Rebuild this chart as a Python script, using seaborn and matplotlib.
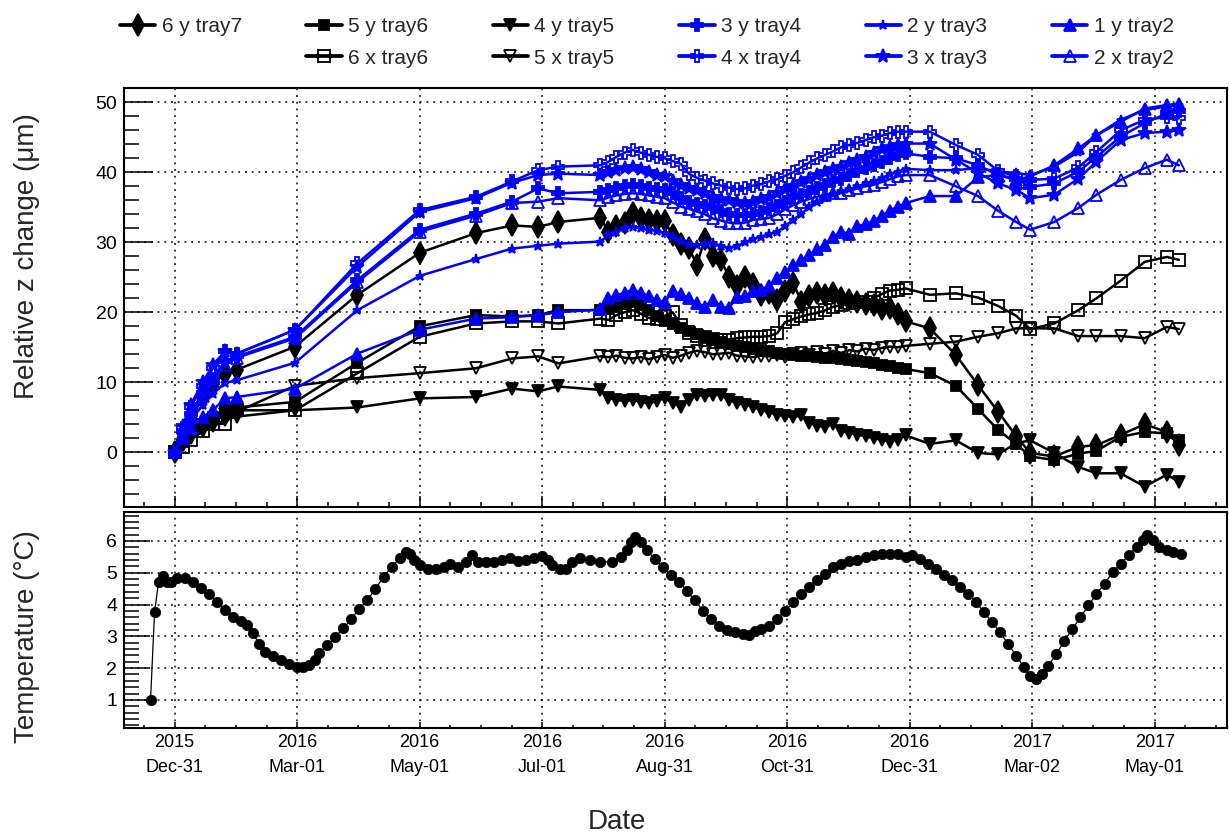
import matplotlib
matplotlib.use("Agg")
import matplotlib.pyplot as plt
from matplotlib.lines import Line2D
from matplotlib.ticker import FixedLocator, MultipleLocator, NullFormatter
import seaborn as sns

# ---------------------------------------------------------------- data
# measurement days, counted from 2015-12-31
dates = [0, 4, 8, 14, 19, 25, 31, 60, 91, 122, 150, 168, 181, 191,
         212, 216, 220, 224, 228, 232, 236, 240, 244, 248, 252, 256, 260,
         264, 268, 272, 276, 280, 284, 288, 292, 296, 300, 304, 308, 312,
         316, 320, 324, 328, 332, 336, 340, 344, 348, 352, 356, 360, 364,
         376, 389, 400, 410, 419, 426, 438, 450, 459, 471, 483, 494, 500]

# relative z change in micrometres
y_tray7_6 = [0, 2.8, 4.8, 7.8, 9.8, 11.2, 11.8, 15.1, 22.5, 28.5, 31.3, 32.4, 32.2, 32.9,
             33.5, 31.5, 32.3, 32.8, 34.2, 33.5, 33.2, 33.0, 33.0, 31.0, 29.8, 29.2, 26.8,
             30.5, 28.0, 27.5, 25.0, 23.8, 25.0, 24.0, 22.5, 22.8, 21.8, 23.0, 24.2, 21.5,
             22.3, 22.8, 22.5, 22.7, 22.0, 21.8, 21.5, 21.2, 21.0, 20.5, 20.6, 19.8, 18.7,
             17.7, 13.9, 9.6, 5.8, 2.3, -0.1, -0.6, 0.8, 1.0, 2.5, 4.0, 2.9, 1.0]
y_tray6_5 = [0, 1.5, 3.0, 4.0, 5.0, 6.0, 6.4, 7.2, 12.8, 18.0, 19.6, 19.4, 19.6, 20.3,
             20.3, 20.5, 20.8, 21.2, 21.5, 21.0, 20.3, 19.5, 18.8, 18.3, 17.8, 17.3, 16.9,
             16.5, 16.2, 15.8, 15.5, 15.2, 15.0, 14.8, 14.6, 14.5, 14.2, 14.0, 13.9, 13.8,
             13.7, 13.6, 13.5, 13.4, 13.3, 13.2, 13.1, 12.9, 12.7, 12.5, 12.3, 12.1, 11.9,
             11.3, 9.5, 6.2, 3.2, 1.2, -0.6, -1.1, -0.2, 0.2, 2.2, 2.9, 2.7, 1.8]
y_tray5_4 = [0, 1.0, 2.0, 3.0, 3.8, 4.6, 5.1, 6.0, 6.4, 7.7, 7.9, 9.1, 8.7, 9.4,
             8.9, 7.8, 7.5, 7.3, 7.5, 7.2, 7.0, 7.3, 7.8, 7.0, 6.5, 7.5, 8.2,
             8.0, 8.2, 8.2, 7.5, 7.0, 6.8, 6.5, 6.0, 5.8, 5.3, 5.2, 5.0, 5.3,
             4.2, 3.8, 3.6, 4.1, 3.0, 2.8, 2.5, 2.3, 2.0, 1.8, 1.5, 1.8, 2.4,
             1.2, 1.7, -0.1, -0.3, 1.3, 1.7, -0.1, -2.1, -3.0, -3.0, -4.9, -3.2, -4.2]
y_tray4_3 = [0, 3.0, 5.5, 8.5, 10.5, 13.0, 13.7, 16.5, 24.6, 31.8, 34.1, 35.8, 37.7, 37.0,
             37.2, 37.5, 37.8, 38.0, 38.2, 38.0, 37.8, 37.6, 37.4, 37.0, 36.3, 35.8, 35.5,
             35.2, 34.9, 34.5, 34.1, 33.9, 33.9, 34.1, 34.3, 34.7, 35.2, 35.8, 36.4, 36.8,
             37.2, 37.7, 38.2, 38.7, 39.1, 39.6, 40.2, 40.6, 41.0, 41.5, 42.0, 42.4, 42.7,
             42.2, 42.0, 41.0, 39.6, 39.1, 37.9, 38.4, 40.1, 42.2, 45.1, 47.0, 48.4, 48.7]
y_tray3_2 = [0, 2.5, 4.5, 6.8, 8.3, 9.9, 10.3, 12.8, 20.3, 25.2, 27.6, 29.1, 29.5, 29.8,
             30.1, 31.0, 31.5, 32.0, 32.2, 32.0, 31.8, 31.6, 31.3, 30.8, 30.2, 29.8, 29.6,
             29.7, 29.9, 29.5, 29.2, 29.5, 30.0, 30.5, 30.8, 31.2, 31.5, 32.3, 33.2, 34.1,
             35.0, 35.8, 36.4, 36.9, 37.3, 37.6, 38.0, 38.4, 38.7, 39.2, 39.7, 40.1, 40.5,
             40.3, 40.3, 40.6, 40.1, 39.9, 39.6, 40.8, 42.9, 45.3, 47.5, 48.9, 49.4, 49.6]
y_tray2_1 = [0, 2.0, 3.5, 5.0, 6.0, 7.7, 7.9, 9.1, 14.1, 17.5, 19.1, 19.3, 19.6, 20.0,
             20.4, 22.0, 22.4, 22.8, 23.2, 22.8, 22.3, 21.8, 21.4, 23.0, 22.6, 22.0, 21.3,
             20.8, 21.8, 20.8, 20.6, 22.2, 22.3, 23.0, 23.2, 23.8, 24.9, 25.8, 26.7, 27.4,
             28.2, 29.0, 29.6, 30.8, 31.5, 31.2, 32.3, 32.6, 33.0, 33.8, 34.5, 35.1, 35.6,
             36.6, 36.6, 39.3, 39.6, 38.9, 39.4, 41.0, 43.4, 45.3, 47.2, 49.1, 49.6, 49.8]
x_tray6_6 = [0, 0.8, 1.8, 3.0, 4.0, 4.1, 6.0, 6.0, 11.3, 16.5, 18.4, 18.7, 18.7, 18.4,
             19.1, 18.9, 19.6, 20.0, 20.3, 19.8, 19.2, 19.0, 19.5, 20.0, 18.2, 17.0, 16.6,
             16.4, 16.2, 16.0, 16.1, 16.3, 16.4, 16.5, 16.5, 16.6, 17.0, 18.6, 19.0, 19.4,
             19.7, 19.9, 20.3, 20.8, 21.0, 21.3, 21.4, 21.5, 22.0, 22.6, 23.1, 23.2, 23.4,
             22.5, 22.7, 22.1, 20.9, 19.5, 17.6, 18.4, 20.3, 22.0, 24.5, 27.2, 27.9, 27.5]
x_tray5_5 = [0, 1.0, 2.2, 3.5, 4.5, 5.5, 5.8, 9.5, 10.6, 11.3, 12.0, 13.4, 13.7, 12.7,
             13.7, 13.6, 13.8, 13.5, 13.4, 13.6, 13.3, 13.6, 13.9, 13.5, 13.8, 14.2, 14.5,
             14.3, 14.0, 14.1, 14.2, 13.8, 13.7, 13.6, 13.8, 13.7, 13.9, 13.6, 14.0, 14.2,
             13.9, 14.3, 14.1, 14.5, 14.2, 14.6, 14.4, 14.8, 14.6, 14.9, 15.1, 15.0, 15.2,
             15.5, 15.8, 16.5, 17.0, 17.7, 17.7, 17.7, 16.6, 16.6, 16.6, 16.3, 17.9, 17.6]
x_tray4_4 = [0, 3.5, 6.5, 9.5, 12.0, 14.4, 14.1, 17.5, 27.0, 34.6, 36.5, 38.7, 40.3, 40.8,
             41.0, 41.5, 42.2, 42.8, 43.2, 42.8, 42.5, 42.2, 42.0, 41.6, 41.2, 39.8, 39.2,
             38.8, 38.4, 38.1, 37.8, 37.6, 37.7, 38.1, 38.3, 38.7, 39.0, 39.5, 40.0, 40.7,
             41.4, 42.0, 42.5, 43.0, 43.6, 43.9, 44.2, 44.6, 45.0, 45.2, 45.6, 45.8, 45.8,
             45.8, 43.9, 42.5, 40.2, 39.4, 38.9, 39.1, 40.7, 42.9, 46.0, 47.5, 47.9, 47.7]
x_tray3_3 = [0, 3.8, 6.8, 10.0, 12.5, 14.4, 14.1, 17.5, 26.5, 34.3, 36.3, 38.5, 39.6, 39.8,
             39.6, 40.0, 40.3, 40.6, 40.8, 40.4, 40.0, 39.6, 39.4, 38.8, 38.2, 37.8, 37.5,
             37.0, 36.5, 36.2, 36.0, 35.8, 35.6, 35.8, 36.2, 36.5, 37.0, 37.6, 38.1, 38.6,
             39.1, 39.6, 40.1, 40.4, 40.8, 41.3, 41.8, 42.2, 42.8, 43.3, 43.6, 43.9, 44.1,
             44.1, 41.8, 39.9, 38.4, 37.5, 36.3, 36.8, 39.1, 41.5, 44.6, 45.6, 45.8, 46.0]
x_tray2_2 = [0, 2.8, 5.0, 8.0, 10.0, 12.5, 13.5, 16.3, 24.3, 31.5, 33.8, 35.6, 35.8, 36.3,
             36.0, 36.4, 36.7, 36.9, 37.0, 36.9, 36.7, 36.5, 36.3, 35.7, 35.1, 34.8, 34.4,
             34.0, 33.4, 33.1, 32.8, 32.7, 32.8, 33.2, 33.3, 33.5, 34.0, 34.7, 35.3, 35.8,
             36.2, 36.5, 36.8, 37.0, 37.1, 37.4, 37.7, 38.0, 38.2, 38.6, 39.0, 39.4, 39.6,
             39.6, 38.0, 36.6, 34.5, 32.9, 31.8, 32.9, 34.9, 36.8, 38.9, 40.6, 41.8, 41.0]

# temperature readings (days from 2015-12-31, degrees C)
temp_days = [-12, -10, -8, -6, -4, -2, 1, 5, 9, 13, 17, 21, 25, 29, 33, 36, 39, 42, 45,
             49, 53, 57, 61, 64, 67, 70, 72, 76, 80, 84, 88, 92, 96, 100, 104, 108, 112,
             115, 117, 119, 122, 126, 130, 134, 137, 141, 145, 148, 151, 155, 159, 163,
             167, 171, 175, 179, 183, 186, 188, 192, 195, 198, 202, 207, 212, 218, 222,
             225, 227, 229, 232, 235, 239, 243, 247, 251, 255, 259, 263, 267, 271, 275,
             279, 283, 286, 289, 292, 296, 300, 304, 308, 312, 316, 320, 324, 328, 332,
             336, 340, 344, 348, 352, 356, 360, 364, 367, 371, 375, 379, 383, 387, 391,
             395, 399, 403, 407, 411, 415, 419, 423, 426, 429, 432, 435, 439, 443, 447,
             451, 455, 459, 463, 467, 471, 475, 479, 482, 484, 487, 490, 494, 497, 501]
temp_vals = [1.01, 3.77, 4.71, 4.89, 4.71, 4.71, 4.85, 4.82, 4.71, 4.53, 4.34, 4.08,
             3.82, 3.61, 3.49, 3.35, 3.09, 2.77, 2.51, 2.38, 2.27, 2.14, 2.02, 2.04, 2.09,
             2.25, 2.46, 2.72, 2.98, 3.25, 3.56, 3.87, 4.14, 4.50, 4.87, 5.18, 5.45, 5.65,
             5.60, 5.39, 5.24, 5.13, 5.13, 5.18, 5.29, 5.18, 5.34, 5.55, 5.34, 5.34, 5.34,
             5.39, 5.45, 5.37, 5.39, 5.45, 5.52, 5.39, 5.24, 5.13, 5.13, 5.34, 5.45, 5.39,
             5.34, 5.34, 5.49, 5.71, 5.97, 6.11, 5.97, 5.71, 5.44, 5.18, 4.92, 4.71, 4.44,
             4.13, 3.81, 3.55, 3.34, 3.20, 3.13, 3.07, 3.05, 3.16, 3.23, 3.34, 3.55, 3.81,
             4.07, 4.34, 4.55, 4.76, 4.97, 5.18, 5.28, 5.37, 5.41, 5.49, 5.55, 5.58, 5.60,
             5.58, 5.49, 5.55, 5.44, 5.28, 5.13, 4.92, 4.76, 4.55, 4.34, 4.07, 3.76, 3.44,
             3.13, 2.76, 2.39, 2.02, 1.76, 1.65, 1.81, 2.07, 2.44, 2.86, 3.23, 3.60, 3.97,
             4.34, 4.65, 5.02, 5.28, 5.55, 5.81, 6.02, 6.18, 6.02, 5.81, 5.71, 5.65, 5.58]

tick_days = [0, 61, 122, 183, 244, 305, 366, 427, 488]
tick_labels = ["2015\nDec-31", "2016\nMar-01", "2016\nMay-01", "2016\nJul-01",
               "2016\nAug-31", "2016\nOct-31", "2016\nDec-31", "2017\nMar-02",
               "2017\nMay-01"]

# ---------------------------------------------------------------- styles
BLUE = "#0000ff"
series = [
    ("6 y tray7", y_tray7_6, dict(color="black", marker="d", ms=11, mfc="black")),
    ("5 y tray6", y_tray6_5, dict(color="black", marker="s", ms=7.5, mfc="black")),
    ("6 x tray6", x_tray6_6, dict(color="black", marker="s", ms=8, mfc="none")),
    ("4 y tray5", y_tray5_4, dict(color="black", marker="v", ms=8.5, mfc="black")),
    ("5 x tray5", x_tray5_5, dict(color="black", marker="v", ms=9, mfc="none")),
    ("3 y tray4", y_tray4_3, dict(color=BLUE, marker="P", ms=8.5, mfc=BLUE)),
    ("4 x tray4", x_tray4_4, dict(color=BLUE, marker="P", ms=9, mfc="none")),
    ("2 y tray3", y_tray3_2, dict(color=BLUE, marker="*", ms=6.5, mfc=BLUE)),
    ("3 x tray3", x_tray3_3, dict(color=BLUE, marker="*", ms=10, mfc=BLUE)),
    ("1 y tray2", y_tray2_1, dict(color=BLUE, marker="^", ms=8.5, mfc=BLUE)),
    ("2 x tray2", x_tray2_2, dict(color=BLUE, marker="^", ms=9, mfc="none")),
]

sns.set_style("white")
plt.rcParams["font.family"] = ["Liberation Sans", "DejaVu Sans"]

fig = plt.figure(figsize=(12.29, 8.39), dpi=100)
ax_top = fig.add_axes([0.1011, 0.3961, 0.8973, 0.4987])
ax_bot = fig.add_axes([0.1011, 0.1319, 0.8973, 0.2582], sharex=ax_top)

LW = 1.8
for label, vals, st in series:
    sns.lineplot(x=dates, y=vals, ax=ax_top, color=st["color"], linewidth=LW,
                 marker=st["marker"], markersize=st["ms"],
                 markerfacecolor=st["mfc"], markeredgecolor=st["color"],
                 markeredgewidth=1.3, estimator=None, sort=False, legend=False,
                 zorder=3)

sns.lineplot(x=temp_days, y=temp_vals, ax=ax_bot, color="black", linewidth=0.9,
             marker="o", markersize=7.5, markerfacecolor="black",
             markeredgecolor="black", markeredgewidth=0.5,
             estimator=None, sort=False, legend=False, zorder=3)

# ---------------------------------------------------------------- axes
grid_kw = dict(color="black", linestyle=(0, (1.2, 3.2)), linewidth=1.1)
for ax in (ax_top, ax_bot):
    ax.set_xlim(-25.1, 524.0)
    ax.xaxis.set_major_locator(FixedLocator(tick_days))
    ax.xaxis.set_minor_locator(MultipleLocator(15.25))
    ax.grid(True, which="major", **grid_kw)
    ax.set_axisbelow(True)
    for sp in ax.spines.values():
        sp.set_linewidth(1.5)
        sp.set_color("black")
    ax.set_xlabel("")
    ax.set_ylabel("")
    ax.tick_params(axis="both", which="both", direction="in", top=False,
                   right=False, left=True, bottom=True, colors="black", width=1.1)

ax_top.set_ylim(-7.77, 52.0)
ax_top.yaxis.set_major_locator(MultipleLocator(10))
ax_top.yaxis.set_minor_locator(MultipleLocator(2))
ax_top.tick_params(axis="y", which="major", length=21, labelsize=14, pad=5)
ax_top.tick_params(axis="y", which="minor", length=10.8)
ax_top.tick_params(axis="x", which="major", length=8, labelbottom=False)
ax_top.tick_params(axis="x", which="minor", length=3.6)

ax_bot.set_ylim(0.105, 6.92)
ax_bot.yaxis.set_major_locator(MultipleLocator(1))
ax_bot.yaxis.set_minor_locator(MultipleLocator(0.2))
ax_bot.tick_params(axis="y", which="major", length=19, labelsize=14, pad=5)
ax_bot.tick_params(axis="y", which="minor", length=10.8)
ax_bot.tick_params(axis="x", which="major", length=4.5, labelsize=13, pad=4)
ax_bot.tick_params(axis="x", which="minor", length=2.5)
ax_bot.set_xticklabels(tick_labels, linespacing=1.6)
ax_bot.xaxis.set_minor_formatter(NullFormatter())

# ---------------------------------------------------------------- titles
fig.text(27 / 1229, 1 - 256 / 839, "Relative z change (\u03bcm)", rotation=90,
         ha="center", va="center", fontsize=20)
fig.text(27 / 1229, 1 - 637 / 839, "Temperature (\u00b0C)", rotation=90,
         ha="center", va="center", fontsize=20)
fig.text(617 / 1229, 1 - 822 / 839, "Date", ha="center", va="center", fontsize=20)

# ---------------------------------------------------------------- legend
def handle(st):
    return Line2D([], [], color=st["color"], linewidth=LW * 1.5,
                  marker=st["marker"], markersize=st["ms"],
                  markerfacecolor=st["mfc"], markeredgecolor=st["color"],
                  markeredgewidth=1.3)

by_label = {lab: st for lab, _, st in series}
order = ["6 y tray7", None, "5 y tray6", "6 x tray6", "4 y tray5", "5 x tray5",
         "3 y tray4", "4 x tray4", "2 y tray3", "3 x tray3", "1 y tray2", "2 x tray2"]
handles, labels = [], []
for lab in order:
    if lab is None:
        handles.append(Line2D([], [], linestyle="none"))
        labels.append("")
    else:
        handles.append(handle(by_label[lab]))
        labels.append(lab)

fig.legend(handles, labels, ncol=6, loc="upper left",
           bbox_to_anchor=(120 / 1229, 1 - 17 / 839), frameon=False,
           fontsize=15, handlelength=1.7, handletextpad=0.3,
           columnspacing=3.1, labelspacing=0.6, borderpad=0, borderaxespad=0)

fig.savefig("out.png", dpi=100)
